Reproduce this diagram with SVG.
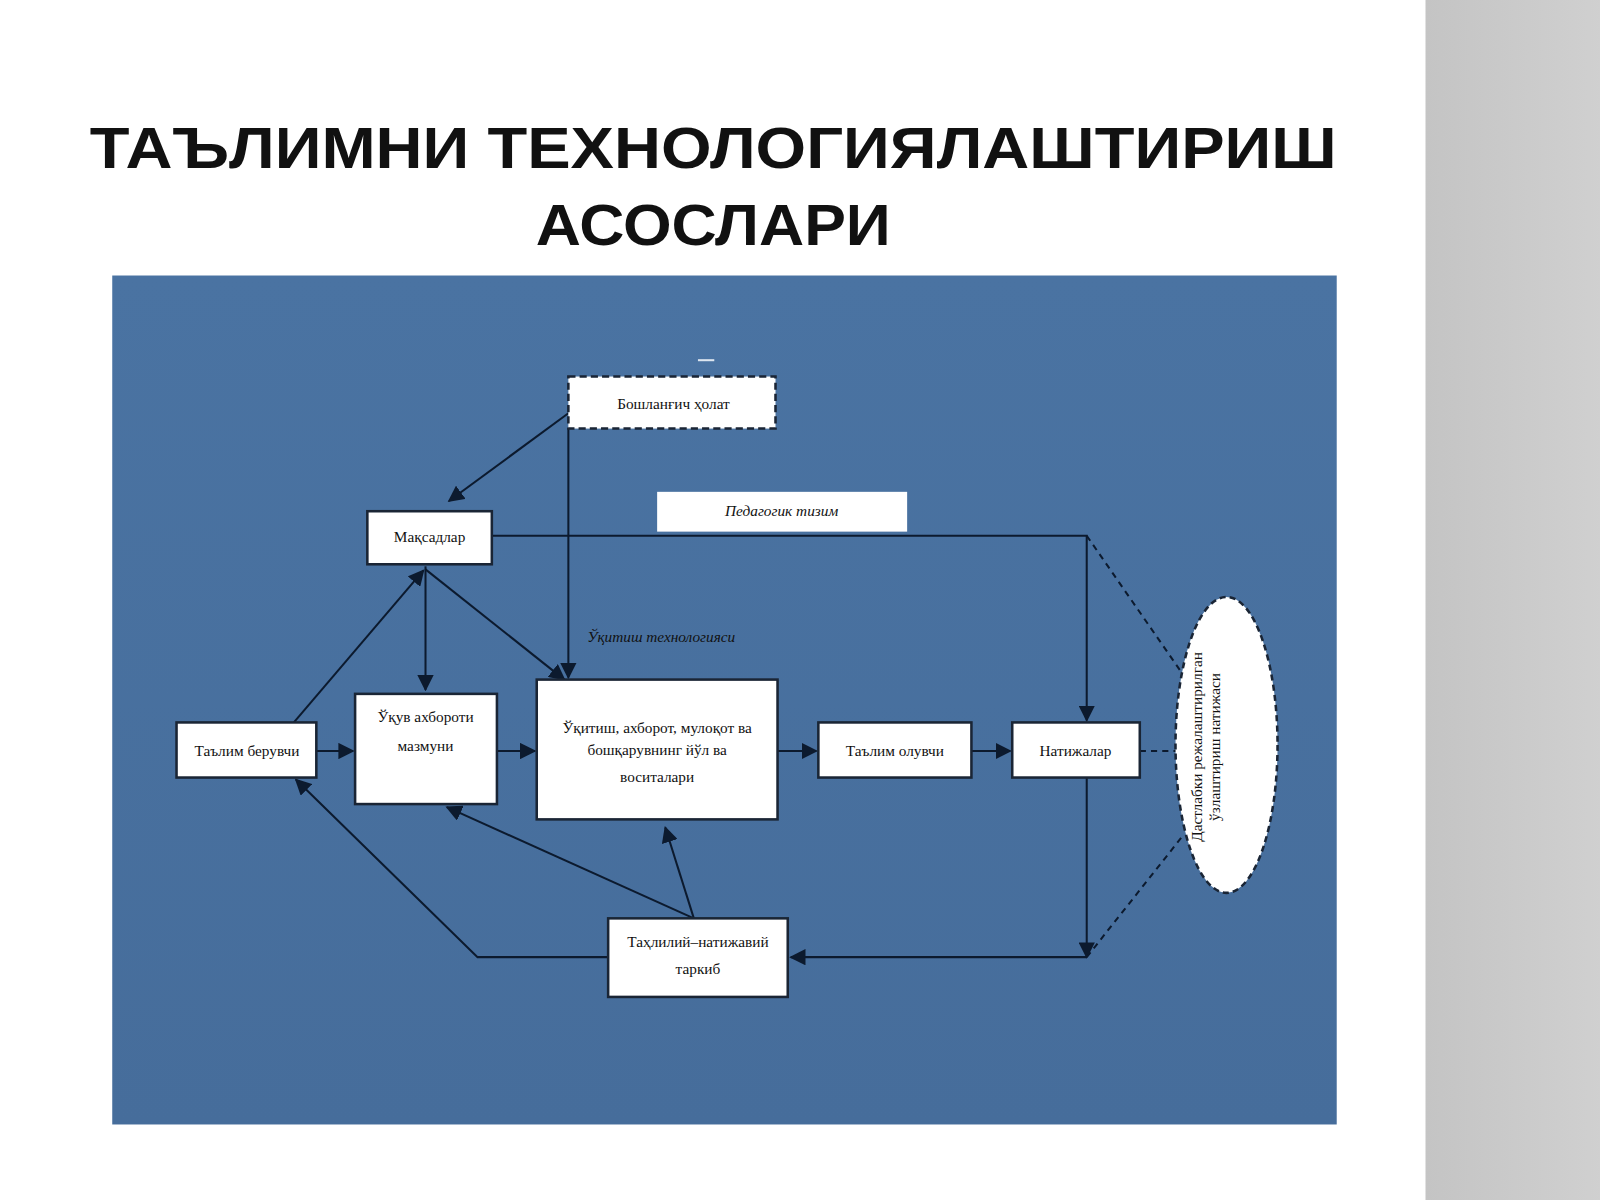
<svg xmlns="http://www.w3.org/2000/svg" width="1600" height="1200" viewBox="0 0 1600 1200">
<defs>
<linearGradient id="bg" x1="0" y1="0" x2="0" y2="1"><stop offset="0" stop-color="#4a73a2"/><stop offset="1" stop-color="#466d9b"/></linearGradient>
<linearGradient id="gr" x1="0" y1="0" x2="1" y2="0"><stop offset="0" stop-color="#c4c4c4"/><stop offset="1" stop-color="#d2d2d2"/></linearGradient>
<marker id="a" viewBox="0 0 10 10" refX="9" refY="5" markerWidth="8" markerHeight="8" markerUnits="strokeWidth" orient="auto"><path d="M0,0L10,5L0,10z" fill="#0c1a2e"/></marker>
</defs>
<style>
.b{fill:#fff;stroke:#1a2535;stroke-width:2.5}
.t{font-family:"Liberation Serif",serif;font-size:15px;fill:#111;text-anchor:middle}
.c{fill:none;stroke:#0c1a2e;stroke-width:2}
.d{fill:none;stroke:#0c1a2e;stroke-width:2;stroke-dasharray:6 5}
.h{font-family:"Liberation Sans",sans-serif;font-weight:bold;font-size:56px;fill:#111}
</style>
<rect width="1600" height="1200" fill="#fff"/>
<g transform="scale(1.0204)">
<rect x="1397" y="0" width="203" height="1200" fill="url(#gr)"/>
<text class="h" x="88" y="165" textLength="1222" lengthAdjust="spacingAndGlyphs">ТАЪЛИМНИ ТЕХНОЛОГИЯЛАШТИРИШ</text>
<text class="h" x="525" y="240" textLength="348" lengthAdjust="spacingAndGlyphs">АСОСЛАРИ</text>
<rect x="110" y="270" width="1200" height="832" fill="url(#bg)"/>
<rect x="684" y="352" width="16" height="2" fill="#dde6f0"/>
<g id="connectors">
<path class="c" d="M557,405L440,491" marker-end="url(#a)"/>
<path class="c" d="M557,420V664" marker-end="url(#a)"/>
<path class="c" d="M482,525H1065V706" marker-end="url(#a)"/>
<path class="d" d="M1065,525L1160,662"/>
<path class="c" d="M417,555V676" marker-end="url(#a)"/>
<path class="c" d="M417,558L553,666" marker-end="url(#a)"/>
<path class="c" d="M288,708L415,559" marker-end="url(#a)"/>
<path class="c" d="M310,736H346" marker-end="url(#a)"/>
<path class="c" d="M487,736H524" marker-end="url(#a)"/>
<path class="c" d="M762,736H800" marker-end="url(#a)"/>
<path class="c" d="M952,736H990" marker-end="url(#a)"/>
<path class="d" d="M1117,736H1155"/>
<path class="c" d="M1065,762V938" marker-end="url(#a)"/>
<path class="c" d="M1065,938H775" marker-end="url(#a)"/>
<path class="d" d="M1065,938L1160,818"/>
<path class="c" d="M596,938H468L290,764" marker-end="url(#a)"/>
<path class="c" d="M680,900L438,791" marker-end="url(#a)"/>
<path class="c" d="M680,900L652,811" marker-end="url(#a)"/>
</g>
<g id="start"><rect x="557" y="369" width="203" height="51" fill="#fff" stroke="#1a2535" stroke-width="2.5" stroke-dasharray="7 4"/><text class="t" x="660" y="401">Бошланғич ҳолат</text></g>
<g id="pedagog"><rect x="644" y="482" width="245" height="39" fill="#fff"/><text class="t" x="766" y="506" font-style="italic">Педагогик тизим</text></g>
<g id="maqsad"><rect class="b" x="360" y="501" width="122" height="52"/><text class="t" x="421" y="531">Мақсадлар</text></g>
<text class="t" x="648" y="629" font-style="italic">Ўқитиш технологияси</text>
<g id="mazmun"><rect class="b" x="348" y="680" width="139" height="108"/><text class="t" x="417" y="708">Ўқув ахбороти</text><text class="t" x="417" y="736">мазмуни</text></g>
<g id="yul"><rect class="b" x="526" y="666" width="236" height="137"/><text class="t" x="644" y="718">Ўқитиш, ахборот, мулоқот ва</text><text class="t" x="644" y="740">бошқарувнинг йўл ва</text><text class="t" x="644" y="766">воситалари</text></g>
<g id="beruvchi"><rect class="b" x="173" y="708" width="137" height="54"/><text class="t" x="242" y="741">Таълим берувчи</text></g>
<g id="oluvchi"><rect class="b" x="802" y="708" width="150" height="54"/><text class="t" x="877" y="741">Таълим олувчи</text></g>
<g id="natija"><rect class="b" x="992" y="708" width="125" height="54"/><text class="t" x="1054" y="741">Натижалар</text></g>
<g id="tahlil"><rect class="b" x="596" y="900" width="176" height="77"/><text class="t" x="684" y="928">Таҳлилий–натижавий</text><text class="t" x="684" y="955">таркиб</text></g>
<g id="ellipse"><ellipse cx="1202" cy="730" rx="50" ry="145" fill="#fff" stroke="#1a2535" stroke-width="2.5" stroke-dasharray="6 4"/><text class="t" transform="translate(1178,732) rotate(-90)">Дастлабки режалаштирилган</text><text class="t" transform="translate(1196,732) rotate(-90)">ўзлаштириш натижаси</text></g>
</g>
</svg>
